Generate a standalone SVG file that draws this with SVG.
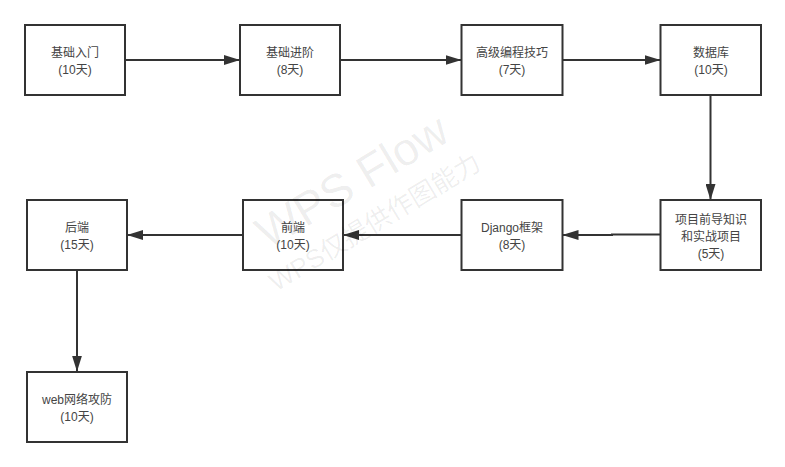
<svg xmlns="http://www.w3.org/2000/svg" width="785" height="467" viewBox="0 0 785 467">
<defs>
<marker id="arr" viewBox="0 0 16 10" refX="16" refY="5" markerWidth="16" markerHeight="10" markerUnits="userSpaceOnUse" orient="auto">
<path d="M0,0 L16,5 L0,10 Z" fill="#333"/>
</marker>
<style>
.box{fill:#fff;stroke:#333;stroke-width:2}
.t{font-family:"Liberation Sans","Noto Sans CJK SC",sans-serif;font-size:12px;fill:#444;text-anchor:middle}
.c{fill:none;stroke:#333;stroke-width:2;marker-end:url(#arr)}
.wm{font-family:"Liberation Sans","Noto Sans CJK SC",sans-serif;fill:#000;fill-opacity:0.07}
</style>
</defs>
<rect width="785" height="467" fill="#fff"/>
<g id="connectors">
<path class="c" d="M125,60 H240"/>
<path class="c" d="M340,60 H461.5"/>
<path class="c" d="M562.5,60 H660.5"/>
<path class="c" d="M710.5,95 V200"/>
<path class="c" d="M660.5,234.5 H612 V235 H562.5"/>
<path class="c" d="M461.5,235 H403 V235 H343"/>
<path class="c" d="M243,235 H127"/>
<path class="c" d="M77,270 V371.5"/>
</g>
<g id="n1"><rect class="box" x="25" y="25" width="100" height="70"/><text class="t" x="75" y="57">基础入门</text><text class="t" x="75" y="74">(10天)</text></g>
<g id="n2"><rect class="box" x="240" y="25" width="100" height="70"/><text class="t" x="290" y="57">基础进阶</text><text class="t" x="290" y="74">(8天)</text></g>
<g id="n3"><rect class="box" x="461.5" y="25" width="101" height="70"/><text class="t" x="512" y="57">高级编程技巧</text><text class="t" x="512" y="74">(7天)</text></g>
<g id="n4"><rect class="box" x="660.5" y="25" width="100.5" height="70"/><text class="t" x="711" y="57">数据库</text><text class="t" x="711" y="74">(10天)</text></g>
<g id="n5"><rect class="box" x="660.5" y="200" width="100.5" height="70"/><text class="t" x="711" y="224">项目前导知识</text><text class="t" x="711" y="241">和实战项目</text><text class="t" x="711" y="258">(5天)</text></g>
<g id="n6"><rect class="box" x="461.5" y="200" width="101" height="70"/><text class="t" x="512" y="232">Django框架</text><text class="t" x="512" y="249">(8天)</text></g>
<g id="n7"><rect class="box" x="243" y="200" width="100" height="70"/><text class="t" x="293" y="232">前端</text><text class="t" x="293" y="249">(10天)</text></g>
<g id="n8"><rect class="box" x="27" y="200" width="100" height="70"/><text class="t" x="77" y="232">后端</text><text class="t" x="77" y="249">(15天)</text></g>
<g id="n9"><rect class="box" x="27" y="372" width="100" height="70"/><text class="t" x="77" y="404">web网络攻防</text><text class="t" x="77" y="421">(10天)</text></g>
<g id="watermark">
<text class="wm" font-size="46" transform="translate(268,250) rotate(-31)">WPS Flow</text>
<text class="wm" font-size="26" transform="translate(276,292) rotate(-31)">WPS仅提供作图能力</text>
</g>
</svg>
